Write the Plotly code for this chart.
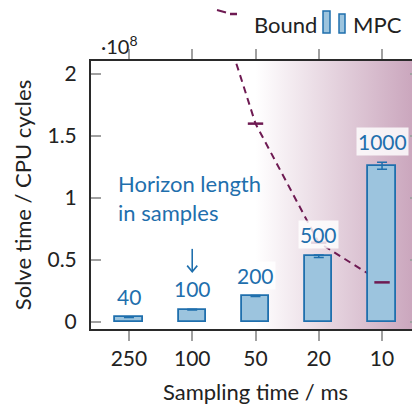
import plotly.graph_objects as go

# ---- data ----
sampling_ms = ["250", "100", "50", "20", "10"]
horizon = ["40", "100", "200", "500", "1000"]
mpc_solve_1e8 = [0.04, 0.10, 0.21, 0.53, 1.26]
mpc_err_1e8 = [0.003, 0.003, 0.004, 0.01, 0.028]
bound_1e8 = [8.0, 3.2, 1.6, 0.64, 0.32]
ytick_vals = [0, 0.5, 1, 1.5, 2]
ytick_text = ["0", "0.5", "1", "1.5", "2"]

BLUE = "#1f6fad"
FILL = "#9cc4de"
PURPLE = "#6e1a52"
GRAD_END = "#c8a2ba"
DARK = "#222222"
FONT = "Lato"

xpos = list(range(len(sampling_ms)))
YMIN, YMAX = -0.056, 2.105
XMIN, XMAX = -0.6, 4.6

fig = go.Figure()

# gradient background (main subplot)
fig.add_trace(go.Scatter(
    x=[2.0, XMAX, XMAX, 2.0, 2.0], y=[YMIN, YMIN, YMAX, YMAX, YMIN],
    mode="lines", line=dict(width=0), fill="toself",
    fillgradient=dict(type="horizontal", colorscale=[[0, "#ffffff"], [1, GRAD_END]]),
    hoverinfo="skip", showlegend=False, xaxis="x", yaxis="y"))

# bound dashed line (main subplot, under bars)
fig.add_trace(go.Scatter(
    x=xpos, y=bound_1e8, mode="lines",
    line=dict(color=PURPLE, width=2, dash="7px,5px"),
    showlegend=False, xaxis="x", yaxis="y"))

# bars (overlay subplot, on top of gradient and line)
fig.add_trace(go.Bar(
    x=xpos, y=mpc_solve_1e8, width=0.43,
    marker=dict(color=FILL, line=dict(color=BLUE, width=1.8)),
    error_y=dict(type="data", array=mpc_err_1e8, color=BLUE, thickness=1.5, width=5),
    showlegend=False, xaxis="x2", yaxis="y2"))

# bound markers on top of bars
fig.add_trace(go.Scatter(
    x=xpos, y=bound_1e8, mode="markers",
    marker=dict(symbol="line-ew", size=11, line=dict(color=PURPLE, width=2.5)),
    showlegend=False, xaxis="x2", yaxis="y2"))

annotations = []
for xi, v, e, t in zip(xpos, mpc_solve_1e8, mpc_err_1e8, horizon):
    annotations.append(dict(
        x=xi, y=v + e, xref="x", yref="y", text=t, showarrow=False,
        yanchor="bottom", yshift=6, font=dict(family=FONT, size=21, color=BLUE),
        bgcolor="rgba(255,255,255,0.82)", borderpad=1))


def px(xp):
    return (xp - 91) / 329


def py(yp):
    return (329 - yp) / 268


annotations += [
    dict(x=-0.2, y=1.12, xref="x", yref="y", text="Horizon length", showarrow=False,
         xanchor="left", yanchor="middle", font=dict(family=FONT, size=22, color=BLUE)),
    dict(x=-0.2, y=0.88, xref="x", yref="y", text="in samples", showarrow=False,
         xanchor="left", yanchor="middle", font=dict(family=FONT, size=22, color=BLUE)),
    dict(x=px(99), y=py(45), xref="paper", yref="paper",
         text="·10<sup>8</sup>", showarrow=False, xanchor="left", yanchor="middle",
         font=dict(family=FONT, size=20, color=DARK)),
    dict(x=px(252), y=py(24), xref="paper", yref="paper",
         text="Bound", showarrow=False, xanchor="left", yanchor="middle",
         font=dict(family=FONT, size=22, color=DARK)),
    dict(x=px(351), y=py(24), xref="paper", yref="paper",
         text="MPC", showarrow=False, xanchor="left", yanchor="middle",
         font=dict(family=FONT, size=22, color=DARK)),
]

shapes = [
    # arrow from text to bar "100"
    dict(type="line", xref="x", yref="y", x0=1, y0=0.59, x1=1, y1=0.405,
         line=dict(color=BLUE, width=1.6)),
    dict(type="path", xref="x", yref="y", path="M 0.92,0.455 L 1,0.405 L 1.08,0.455",
         line=dict(color=BLUE, width=1.6)),
    # legend glyphs
    dict(type="line", xref="paper", yref="paper", x0=px(217), y0=py(10), x1=px(226), y1=py(12.5),
         line=dict(color=PURPLE, width=2)),
    dict(type="line", xref="paper", yref="paper", x0=px(230), y0=py(14), x1=px(237), y1=py(14),
         line=dict(color=PURPLE, width=2.5)),
    dict(type="rect", xref="paper", yref="paper", x0=px(323), y0=py(11), x1=px(330), y1=py(33),
         fillcolor=FILL, line=dict(color=BLUE, width=1.5)),
    dict(type="rect", xref="paper", yref="paper", x0=px(339), y0=py(14), x1=px(345), y1=py(33),
         fillcolor=FILL, line=dict(color=BLUE, width=1.5)),
]

# the page body has an 8px default margin; compensate so the plot area
# lands at screen x 91..420, y 61..329
fig.update_layout(
    width=412, height=399,
    margin=dict(l=83, r=0, t=53, b=78, autoexpand=False),
    paper_bgcolor="white", plot_bgcolor="white",
    font=dict(family=FONT, size=20, color=DARK),
    showlegend=False,
    annotations=annotations, shapes=shapes,
    bargap=0,
    xaxis=dict(
        range=[XMIN, XMAX], tickmode="array", tickvals=xpos, ticktext=sampling_ms,
        showgrid=False, zeroline=False, automargin=False,
        showline=True, linecolor="#2a2a2a", linewidth=2, mirror="ticks",
        ticks="outside", ticklen=10, tickwidth=1.5, tickcolor="#a0a0a0",
        tickfont=dict(family=FONT, size=21, color=DARK),
        title=dict(text="Sampling time / ms", font=dict(family=FONT, size=22, color=DARK), standoff=15),
    ),
    yaxis=dict(
        range=[YMIN, YMAX], tickmode="array", tickvals=ytick_vals, ticktext=ytick_text,
        showgrid=False, zeroline=False, automargin=False,
        showline=True, linecolor="#2a2a2a", linewidth=2, mirror="ticks",
        ticks="inside", ticklen=10, tickwidth=1.5, tickcolor="#a0a0a0",
        tickfont=dict(family=FONT, size=21, color=DARK),
        ticklabelstandoff=8,
        title=dict(text="Solve time / CPU cycles", font=dict(family=FONT, size=22, color=DARK), standoff=10),
    ),
    xaxis2=dict(range=[XMIN, XMAX], overlaying="x", visible=False, showgrid=False, zeroline=False),
    yaxis2=dict(range=[YMIN, YMAX], overlaying="y", visible=False, showgrid=False, zeroline=False),
)

fig.write_html("out.html")
